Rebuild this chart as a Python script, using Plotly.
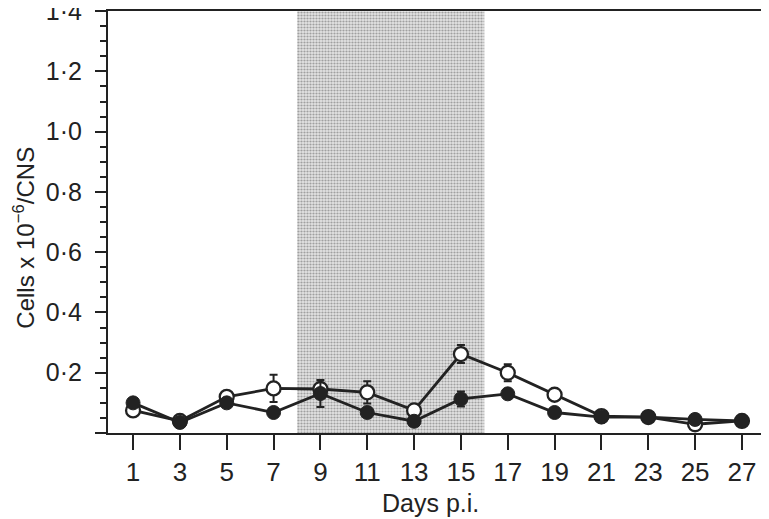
import plotly.graph_objects as go

# days post infection
days = [1, 3, 5, 7, 9, 11, 13, 15, 17, 19, 21, 23, 25, 27]

# open circles
open_vals = [0.075, 0.040, 0.120, 0.148, 0.146, 0.135, 0.075, 0.262, 0.200, 0.127, 0.056, 0.053, 0.029, 0.040]
open_err = [0, 0, 0.010, 0.045, 0.020, 0.037, 0, 0.030, 0.028, 0, 0, 0, 0, 0]

# filled circles
filled_vals = [0.100, 0.035, 0.100, 0.068, 0.131, 0.068, 0.039, 0.113, 0.130, 0.068, 0.053, 0.053, 0.045, 0.040]
filled_err = [0, 0, 0.012, 0, 0.045, 0, 0, 0.025, 0, 0, 0, 0, 0, 0]

# shaded period (days)
shade_start, shade_end = 8, 16

y_ticks = [0, 0.2, 0.4, 0.6, 0.8, 1.0, 1.2, 1.4]
y_ticktext = ["", "0·2", "0·4", "0·6", "0·8", "1·0", "1·2", "1·4"]

FONT = "Liberation Sans, Arial, sans-serif"
INK = "#222222"

fig = go.Figure()

# stippled band
fig.add_trace(go.Bar(
    x=[(shade_start + shade_end) / 2],
    y=[1.4],
    width=[shade_end - shade_start],
    marker=dict(
        color="#d2d2d2",
        line_width=0,
        pattern=dict(shape=".", size=3, solidity=0.42,
                     fgcolor="#a0a0a0", bgcolor="#e4e4e4", fillmode="replace"),
    ),
    hoverinfo="skip",
    showlegend=False,
))

fig.add_trace(go.Scatter(
    x=days, y=open_vals,
    mode="lines+markers",
    line=dict(color=INK, width=2.8),
    marker=dict(symbol="circle", size=14, color="white",
                line=dict(color=INK, width=2.3)),
    error_y=dict(type="data", array=open_err, color=INK, thickness=2, width=4),
    showlegend=False,
))

fig.add_trace(go.Scatter(
    x=days, y=filled_vals,
    mode="lines+markers",
    line=dict(color=INK, width=2.8),
    marker=dict(symbol="circle", size=14, color=INK,
                line=dict(color=INK, width=1)),
    error_y=dict(type="data", array=filled_err, color=INK, thickness=2, width=4),
    showlegend=False,
))

fig.update_xaxes(
    range=[-0.07, 28.07],
    tickmode="array", tickvals=days, ticktext=[str(d) for d in days],
    ticks="outside", ticklen=15, tickwidth=2, tickcolor=INK,
    showline=True, linewidth=2, linecolor=INK, mirror=True,
    showgrid=False, zeroline=False, automargin=False,
    tickfont=dict(family=FONT, size=26, color=INK),
)

fig.update_yaxes(
    range=[0, 1.4005],
    tickmode="array", tickvals=y_ticks, ticktext=y_ticktext,
    ticks="outside", ticklen=11, tickwidth=2, tickcolor=INK,
    minor=dict(ticks="outside", ticklen=6, tickwidth=1.5, tickcolor=INK,
               dtick=0.05, tick0=0, showgrid=False),
    ticklabelstandoff=8, ticklabeloverflow="allow",
    showline=True, linewidth=2, linecolor=INK, mirror=True,
    showgrid=False, zeroline=False, automargin=False,
    tickfont=dict(family=FONT, size=25, color=INK),
)

fig.add_annotation(
    text="Days p.i.", x=0.49, y=-0.167, xref="paper", yref="paper",
    xanchor="center", yanchor="middle", showarrow=False,
    font=dict(family=FONT, size=25, color=INK),
)
fig.add_annotation(
    text="Cells x 10<sup>−6</sup>/CNS", x=-0.128, y=0.462, xref="paper", yref="paper",
    xanchor="center", yanchor="middle", textangle=-90, showarrow=False,
    font=dict(family=FONT, size=24, color=INK),
)

# the page body adds an 8 px margin, so the figure is 8 px smaller than the window
fig.update_layout(
    width=761, height=511,
    margin=dict(l=100, r=2, t=3, b=86, autoexpand=False),
    paper_bgcolor="white", plot_bgcolor="white",
    barmode="overlay",
)

fig.write_html("out.html")
